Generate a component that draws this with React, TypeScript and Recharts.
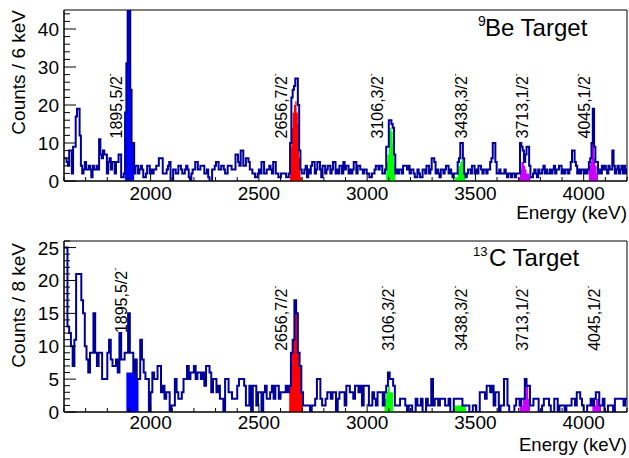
import React from 'react';
import { ComposedChart, Line, Area, XAxis, YAxis, ReferenceDot, ReferenceArea } from 'recharts';

// ---------- data ----------
const E_MIN = 1600;
const E_MAX = 4200;
const TOP_BIN = 6; // keV per bin, 9Be target
const BOT_BIN = 8; // keV per bin, 13C target

const topSegA = [
  6, 6, 5, 4, 8, 8, 2, 9, 9, 17, 19, 19, 12, 4, 2, 3, 5, 3, 3, 4,
  3, 1, 4, 3, 3, 4, 3, 11, 7, 6, 8, 7, 7, 2, 5, 6, 3, 5, 5, 2,
  5, 5, 7, 7, 1, 1, 2, 18, 31, 48, 46, 24, 10, 10, 2, 4, 4, 2,
];
const topSegB = [
  3, 4, 3, 1, 1, 2, 4, 4, 2, 3, 2, 3, 3, 4, 4, 6, 6, 6, 2, 2,
  2, 3, 4, 5, 0, 0, 3, 3, 2, 2, 4, 4, 3, 2, 2, 3, 4, 3, 1, 0,
  2, 3, 3, 5, 5, 3, 3, 4, 4, 4, 2, 2, 3, 1, 0, 0, 3, 3, 4, 5,
  5, 3, 3, 4, 4, 3, 2, 2, 4, 4, 4, 3, 3, 3, 7, 7, 5, 4, 8, 8,
  4, 4, 6, 6, 5, 3, 3, 2, 2, 1, 1, 2, 3, 2, 5, 5, 2, 2, 3, 3,
  4, 3, 2, 5, 5, 2, 2, 1, 1, 2, 2, 2, 2, 1, 1, 2,
];
const topSegC = [
  10, 22, 24, 25, 27, 27, 20, 8, 3, 2, 2, 3, 4, 1, 3, 2, 4, 5, 5, 2,
  3, 5, 5, 3, 1, 4, 4, 2, 3, 4, 4, 2, 3, 5, 5, 2, 3, 2, 4, 4,
  2, 5, 3,
];
const topSegD = [
  4, 4, 2, 3, 2, 3, 5, 5, 2, 4, 4, 3, 3, 2, 3, 3, 2, 2, 1, 1,
  2, 2, 3, 4, 4, 3, 4, 4, 2, 2, 3, 9, 9, 16, 16, 15, 14, 7, 2, 3,
  2, 3, 3, 2, 4, 4, 4, 3, 4, 2, 3, 3, 2, 1, 1, 3, 2, 1, 1, 3,
  3, 2, 4, 4, 2, 3, 6, 6, 5, 2, 3, 2, 1, 3, 3, 2, 3, 4, 4, 2,
  3, 2, 1, 2, 2, 2, 5, 6, 10, 10, 6, 2, 1, 2, 3, 3, 2, 4, 4, 2,
  3, 2, 4, 4, 3, 2, 3,
];
const topSegE = [
  3, 2, 3, 3, 5, 6, 10, 10, 5, 2, 2, 3, 2, 2, 2, 3, 2, 1, 2, 2,
  1, 2, 2, 1, 2, 2, 2, 10, 9, 8, 5, 7, 9, 9, 4, 1, 1, 2, 3, 2,
  1, 3, 2, 2, 3, 4, 2, 3, 2, 2, 3, 2, 3, 4, 2, 3, 3, 4, 4, 2,
  3, 2, 3, 3, 2, 3, 5, 8, 8, 5, 4, 2, 3, 2, 3, 3, 2, 3, 2, 3,
  5, 6, 10, 19, 9, 5, 5, 2, 3, 2, 4, 3, 4, 3, 2, 4, 3, 3, 8, 4,
  2, 3, 4, 2, 3, 4, 2, 4, 2, 3,
];
const topCounts = [...topSegA, ...topSegB, ...topSegC, ...topSegD, ...topSegE];

const botSegA = [
  25, 25, 13, 12, 10, 7, 11, 21, 21, 21, 17, 15, 10, 8, 6, 9, 9, 15, 9, 7,
  9, 9, 5, 5, 5, 9, 11, 8, 7, 7, 8, 6, 12, 8, 8, 9, 9, 15, 9, 9,
  6, 8, 5, 5, 11, 8, 6, 5, 5, 0, 3, 6, 5, 5, 7, 7, 3, 4, 2, 3,
  3, 0, 1, 1, 5, 3, 2, 2, 3, 5, 5, 7, 5, 6, 6, 7, 5, 6, 6, 5,
];
const botSegB = [
  6, 4, 7, 7, 6, 3, 5, 5, 3, 4, 2, 2, 0, 5, 5, 3, 3, 2, 2, 2,
  4, 5, 5, 5, 4, 1, 1, 4, 0, 4, 4, 1, 3, 3, 0, 3, 4, 2, 2, 3,
  4, 2, 4, 4, 2, 3, 3, 3, 4, 3, 4, 9, 11, 17, 15, 9, 7, 3, 1, 1,
  1, 1, 0, 1, 1, 2, 5, 5, 2, 1, 1, 2, 3, 3, 2, 3, 3, 0, 2, 3,
  3, 3,
];
const botSegC = [
  1, 4, 4, 3, 3, 2, 4, 4, 3, 4, 1, 4, 4, 4, 1, 1, 3, 2, 1, 3,
  3, 3, 1, 3, 4, 6, 5, 5, 4, 1, 1, 1, 2, 2, 2, 1, 0, 1, 1, 0,
  0, 2, 1, 1, 2, 0, 0, 2, 1, 1, 5, 1, 2, 2, 1, 2, 2, 2, 1, 1,
  2, 0, 0, 2, 2, 2, 2, 2, 1, 1, 1, 1, 0, 0, 1, 1, 0, 0, 3, 3,
  3,
];
const botSegD = [
  2, 4, 4, 3, 4, 1, 3, 3, 0, 1, 1, 5, 5, 1, 0, 0, 0, 1, 2, 2,
  1, 2, 2, 5, 4, 4, 1, 1, 2, 2, 2, 0, 0, 1, 2, 2, 2, 1, 0, 0,
  2, 2, 0, 1, 1, 1, 0, 1, 1, 1, 2, 2, 1, 3, 3, 2, 1, 0, 0, 1,
  1, 2, 1, 2, 3, 3, 1, 1, 2, 0, 0, 1, 1, 1, 0, 2, 2, 2, 2, 2,
  1, 2,
];
const botCounts = [...botSegA, ...botSegB, ...botSegC, ...botSegD];

// gated peak regions: start energy (keV) and bin values
const topFill1895 = { start: 1882, values: [18, 31, 48, 46, 24, 10, 10] };
const topFill2656 = { start: 2644, values: [9, 14, 18, 20, 21, 18, 15, 6, 1] };
const topFill3106 = { start: 3088, values: [5, 7, 13, 14, 13, 10, 4] };
const topFill3438 = { start: 3406, values: [1, 1, 3, 4, 5, 6, 5, 2] };
const topFill3713 = { start: 3700, values: [1, 3, 5, 5, 4, 3, 2, 2, 1] };
const topFill4045 = { start: 4024, values: [4, 5, 10, 10, 6, 4, 2] };

const botFill1895 = { start: 1888, values: [6, 6, 6, 6, 6, 6, 5] };
const botFill2656 = { start: 2640, values: [4, 9, 11, 17, 15, 9, 7, 3] };
const botFill3106 = { start: 3080, values: [2, 3, 4, 3, 3] };
const botFill3438 = { start: 3400, values: [1, 1, 1, 1, 1, 1, 1] };
const botFill3713 = { start: 3704, values: [1, 1, 2, 4, 4, 2] };
const botFill4045 = { start: 4040, values: [1, 1, 2, 2, 1] };

const stateLabels = ['1895,5/2', '2656,7/2', '3106,3/2', '3438,3/2', '3713,1/2', '4045,1/2'];
const topLabelE = [1868, 2630, 3073, 3461, 3743, 4030];
const topLabelY = [11.2, 11.2, 11.2, 11.2, 11.2, 11.2];
const botLabelE = [1891, 2630, 3124, 3461, 3743, 4076];
const botLabelY = [12.0, 9.3, 9.3, 9.3, 9.3, 9.3];

const xTicks = [1600, 1700, 1800, 1900, 2000, 2100, 2200, 2300, 2400, 2500, 2600, 2700, 2800, 2900,
  3000, 3100, 3200, 3300, 3400, 3500, 3600, 3700, 3800, 3900, 4000, 4100, 4200];
const topYTicks = [0, 2, 4, 6, 8, 10, 12, 14, 16, 18, 20, 22, 24, 26, 28, 30, 32, 34, 36, 38, 40, 42, 44];
const botYTicks = [0, 1, 2, 3, 4, 5, 6, 7, 8, 9, 10, 11, 12, 13, 14, 15, 16, 17, 18, 19, 20, 21, 22, 23, 24, 25, 26];

// ---------- styles ----------
const FONT = "'Liberation Sans', Arial, Helvetica, sans-serif";
const LINE_COLOR = '#000099';
const FILL_COLORS = ['#0000ff', '#ff0000', '#00ff00', '#00ff00', '#cc00ff', '#cc00ff'];

type FillDef = { start: number; values: number[] };

function buildRows(counts: number[], bin: number, fills: FillDef[]) {
  const rows: any[] = [];
  for (let i = 0; i <= counts.length; i++) {
    const e = E_MIN + i * bin;
    const row: any = { e, v: counts[Math.min(i, counts.length - 1)] };
    fills.forEach((f, fi) => {
      const k = Math.round((e - f.start) / bin);
      if (k >= 0 && k < f.values.length) row['f' + fi] = f.values[k];
      else if (k === f.values.length) row['f' + fi] = f.values[k - 1];
      else row['f' + fi] = null;
    });
    rows.push(row);
  }
  return rows;
}

const topFills = [topFill1895, topFill2656, topFill3106, topFill3438, topFill3713, topFill4045];
const botFills = [botFill1895, botFill2656, botFill3106, botFill3438, botFill3713, botFill4045];
const topRows = buildRows(topCounts, TOP_BIN, topFills);
const botRows = buildRows(botCounts, BOT_BIN, botFills);

const makeXTick = (labelOffset: number) => (props: any) => {
  const { x, y, payload } = props;
  const v = payload.value;
  const major = v % 500 === 0;
  return (
    <g>
      <line x1={x} x2={x} y1={y} y2={y - (major ? 8 : 4)} stroke="#000" strokeWidth={1} />
      {major && v > E_MIN && v < E_MAX ? (
        <text x={x} y={y + labelOffset} textAnchor="middle" fontSize={19} fontFamily={FONT} fill="#000">
          {v}
        </text>
      ) : null}
    </g>
  );
};

const makeYTick = (majorStep: number) => (props: any) => {
  const { x, y, payload } = props;
  const v = payload.value;
  const major = v % majorStep === 0;
  return (
    <g>
      <line x1={x} x2={x + (major ? 12 : 6)} y1={y} y2={y} stroke="#000" strokeWidth={1} />
      {major ? (
        <text x={x - 5} y={y + 7} textAnchor="end" fontSize={19} fontFamily={FONT} fill="#000">
          {v}
        </text>
      ) : null}
    </g>
  );
};

const makeAnn = (label: string) => (props: any) => {
  const { cx, cy } = props;
  return (
    <text
      x={cx}
      y={cy}
      transform={`rotate(-90 ${cx} ${cy})`}
      fontSize={16}
      fontFamily={FONT}
      fill="#000"
    >
      {label}
      <tspan fontSize={9} dy={-9}>
        -
      </tspan>
    </text>
  );
};

function Panel(props: {
  rows: any[];
  yMax: number;
  yTicks: number[];
  majorStep: number;
  marginTop: number;
  xAxisHeight: number;
  tickLabelOffset: number;
  labelE: number[];
  labelY: number[];
}) {
  const { rows, yMax, yTicks, majorStep, marginTop, xAxisHeight, tickLabelOffset, labelE, labelY } = props;
  return (
    <ComposedChart
      width={629}
      height={229}
      data={rows}
      margin={{ top: marginTop, right: 2, bottom: 0, left: 14 }}
    >
      <XAxis
        type="number"
        dataKey="e"
        domain={[E_MIN, E_MAX]}
        allowDataOverflow
        ticks={xTicks}
        interval={0}
        tickSize={0}
        tickMargin={0}
        tickLine={false}
        tick={makeXTick(tickLabelOffset)}
        height={xAxisHeight}
        axisLine={{ stroke: '#000', strokeWidth: 1 }}
      />
      <YAxis
        type="number"
        domain={[0, yMax]}
        allowDataOverflow
        ticks={yTicks}
        interval={0}
        tickSize={0}
        tickMargin={0}
        tickLine={false}
        tick={makeYTick(majorStep)}
        width={50}
        axisLine={{ stroke: '#000', strokeWidth: 1 }}
      />
      <ReferenceArea x1={E_MIN} x2={E_MAX} y1={0} y2={yMax} fill="none" stroke="#000" strokeWidth={1} />
      {FILL_COLORS.map((c, i) => (
        <Area
          key={'f' + i}
          dataKey={'f' + i}
          type="stepAfter"
          fill={c}
          fillOpacity={1}
          stroke="none"
          isAnimationActive={false}
          connectNulls={false}
          dot={false}
          activeDot={false}
        />
      ))}
      <Line
        dataKey="v"
        type="stepAfter"
        stroke={LINE_COLOR}
        strokeWidth={2}
        dot={false}
        activeDot={false}
        isAnimationActive={false}
        strokeLinejoin="miter"
      />
      {stateLabels.map((s, i) => (
        <ReferenceDot key={s} x={labelE[i]} y={labelY[i]} r={0} shape={makeAnn(s)} />
      ))}
    </ComposedChart>
  );
}

export default function App() {
  return (
    <div
      style={{
        position: 'fixed',
        left: 0,
        top: 0,
        width: 629,
        height: 458,
        background: '#fff',
        fontFamily: FONT,
      }}
    >
      <div style={{ position: 'absolute', left: 0, top: 0 }}>
        <Panel
          rows={topRows}
          yMax={45}
          yTicks={topYTicks}
          majorStep={10}
          marginTop={10}
          xAxisHeight={48}
          tickLabelOffset={19}
          labelE={topLabelE}
          labelY={topLabelY}
        />
      </div>
      <div style={{ position: 'absolute', left: 0, top: 229 }}>
        <Panel
          rows={botRows}
          yMax={26}
          yTicks={botYTicks}
          majorStep={5}
          marginTop={12}
          xAxisHeight={46}
          tickLabelOffset={17}
          labelE={botLabelE}
          labelY={botLabelY}
        />
      </div>
      <svg
        width={629}
        height={458}
        style={{ position: 'absolute', left: 0, top: 0, pointerEvents: 'none' }}
      >
        <text x={25} y={10} transform="rotate(-90 25 10)" textAnchor="end" fontSize={19} fontFamily={FONT}>
          Counts / 6 keV
        </text>
        <text x={25} y={243} transform="rotate(-90 25 243)" textAnchor="end" fontSize={19} fontFamily={FONT}>
          Counts / 8 keV
        </text>
        <text x={627} y={219} textAnchor="end" fontSize={19} fontFamily={FONT}>
          Energy (keV)
        </text>
        <text x={627} y={451} textAnchor="end" fontSize={18.5} fontFamily={FONT}>
          Energy (keV)
        </text>
        <text x={478} y={26} fontSize={14} fontFamily={FONT}>9</text>
        <text x={485} y={36} fontSize={24} fontFamily={FONT}>Be Target</text>
        <text x={473} y={256} fontSize={13}>13</text>
        <text x={489} y={266} fontSize={24} fontFamily={FONT}>C Target</text>
      </svg>
    </div>
  );
}
